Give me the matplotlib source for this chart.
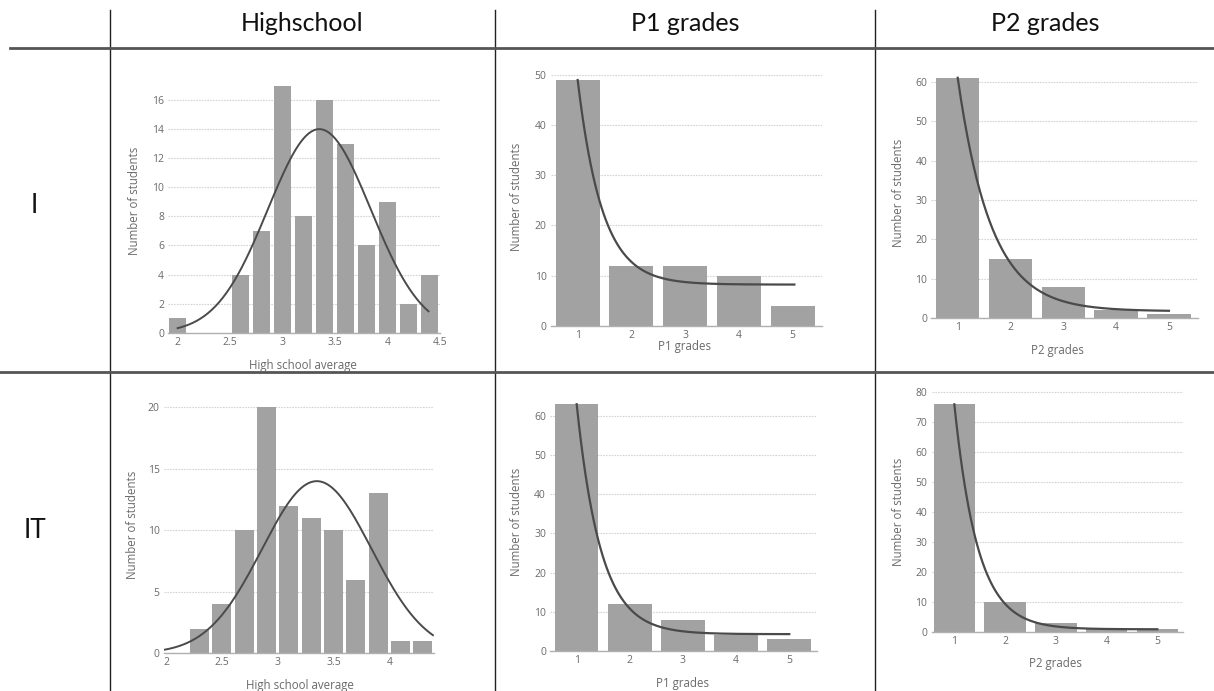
import numpy as np
import matplotlib
matplotlib.use("Agg")
import matplotlib.pyplot as plt

W, H = 1214, 691

# ---------------- data ----------------
columns = ["Highschool", "P1 grades", "P2 grades"]
rows = ["I", "IT"]

hs_i_x = [2.0, 2.2, 2.4, 2.6, 2.8, 3.0, 3.2, 3.4, 3.6, 3.8, 4.0, 4.2, 4.4]
hs_i_counts = [1, 0, 0, 4, 7, 17, 8, 16, 13, 6, 9, 2, 4]
hs_it_x = [2.3, 2.5, 2.7, 2.9, 3.1, 3.3, 3.5, 3.7, 3.9, 4.1, 4.3]
hs_it_counts = [2, 4, 10, 20, 12, 11, 10, 6, 13, 1, 1]

grades = [1, 2, 3, 4, 5]
p1_i_counts = [49, 12, 12, 10, 4]
p2_i_counts = [61, 15, 8, 2, 1]
p1_it_counts = [63, 12, 8, 4, 3]
p2_it_counts = [76, 10, 3, 1, 1]

hs_i_ticks = [2, 2.5, 3, 3.5, 4, 4.5]
hs_it_ticks = [2, 2.5, 3, 3.5, 4]
hs_i_yticks = [0, 2, 4, 6, 8, 10, 12, 14, 16]
hs_it_yticks = [0, 5, 10, 15, 20]
p1_i_yticks = [0, 10, 20, 30, 40, 50]
p2_i_yticks = [0, 10, 20, 30, 40, 50, 60]
p1_it_yticks = [0, 10, 20, 30, 40, 50, 60]
p2_it_yticks = [0, 10, 20, 30, 40, 50, 60, 70, 80]

# fitted normal curves (mean, sd, peak) for high-school averages
hs_i_fit = (3.35, 0.49, 14.0)
hs_it_fit = (3.35, 0.49, 14.0)
# fitted decay curves (start value at grade 1, asymptote, rate)
p1_i_fit = (49.0, 8.2, 2.2)
p2_i_fit = (61.0, 1.8, 1.58)
p1_it_fit = (63.0, 4.3, 2.2)
p2_it_fit = (76.0, 1.0, 2.18)

# ---------------- style ----------------
BAR = "#a2a2a2"
CURVE = "#4a4a4a"
TXT = "#6a6a6a"
GRID = "#d4d4d4"
PFONT = "Open Sans"
HFONT = "Lato"

fig = plt.figure(figsize=(W / 100, H / 100), dpi=100)
fig.patch.set_facecolor("white")

bg = fig.add_axes([0, 0, 1, 1], zorder=-5)
bg.set_xlim(0, W)
bg.set_ylim(H, 0)
bg.axis("off")

# table lines
for xv in [110, 495, 875]:
    bg.plot([xv, xv], [10, H], color="#222222", lw=1.0)
bg.plot([10, W], [48, 48], color="#555555", lw=2.0)
bg.plot([0, W], [372, 372], color="#555555", lw=2.0)

for txt, xc in zip(columns, [302, 685, 1045]):
    bg.text(xc, 23, txt, ha="center", va="center", fontsize=18, family=HFONT, color="#111111")
bg.text(34, 205, rows[0], ha="center", va="center", fontsize=19, family=HFONT, color="#111111")
bg.text(35, 530, rows[1], ha="center", va="center", fontsize=19, family=HFONT, color="#111111")


def make_ax(xlim, ylim, px_left, px_right, px_top, px_bottom):
    ax = fig.add_axes([px_left / W, 1 - px_bottom / H,
                       (px_right - px_left) / W, (px_bottom - px_top) / H])
    ax.set_xlim(*xlim)
    ax.set_ylim(*ylim)
    for s in ["top", "right", "left"]:
        ax.spines[s].set_visible(False)
    ax.spines["bottom"].set_color("#b0b0b0")
    ax.spines["bottom"].set_linewidth(1.0)
    ax.tick_params(axis="both", length=0, labelsize=7.5, colors=TXT, pad=3)
    ax.set_axisbelow(True)
    ax.yaxis.grid(True, color=GRID, lw=0.8, ls=(0, (1.5, 1.0)))
    ax.patch.set_alpha(0)
    return ax


def fmt_ticks(ax, xt, yt):
    ax.set_xticks(xt)
    ax.set_xticklabels([("%g" % v) for v in xt], family=PFONT)
    ax.set_yticks(yt)
    ax.set_yticklabels([("%g" % v) for v in yt], family=PFONT)


def normal_curve(ax, fit, x0, x1):
    mu, sd, pk = fit
    xs = np.linspace(x0, x1, 200)
    ax.plot(xs, pk * np.exp(-(xs - mu) ** 2 / (2 * sd ** 2)), color=CURVE, lw=1.4)


def decay_curve(ax, fit, x0, x1):
    start, c, b = fit
    xs = np.linspace(x0, x1, 200)
    ax.plot(xs, c + (start - c) * np.exp(-b * (xs - 1)), color=CURVE, lw=1.6)


def labels(xl, xpos, yl, ypos):
    bg.text(xpos[0], xpos[1], xl, ha="center", va="center", fontsize=8.3, family=PFONT, color=TXT)
    bg.text(ypos[0], ypos[1], yl, ha="center", va="center", fontsize=8.3, family=PFONT,
            color=TXT, rotation=90)


# ---- I / Highschool ----
ax = make_ax((1.91, 4.5), (0, 17.2), 168.2, 440, 82.6, 332.7)
ax.bar(hs_i_x, hs_i_counts, width=0.165, color=BAR)
normal_curve(ax, hs_i_fit, 2.0, 4.39)
fmt_ticks(ax, hs_i_ticks, hs_i_yticks)
labels("High school average", (303, 365), "Number of students", (135, 201))

# ---- I / P1 ----
ax = make_ax((0.5, 5.55), (0, 50.5), 550.8, 822.3, 72.5, 325.7)
ax.bar(grades, p1_i_counts, width=0.82, color=BAR)
decay_curve(ax, p1_i_fit, 1.0, 5.03)
fmt_ticks(ax, grades, p1_i_yticks)
labels("P1 grades", (685, 346), "Number of students", (517, 197))

# ---- I / P2 ----
ax = make_ax((0.5, 5.55), (0, 62), 931.3, 1198, 73.8, 318.3)
ax.bar(grades, p2_i_counts, width=0.82, color=BAR)
decay_curve(ax, p2_i_fit, 1.0, 5.0)
fmt_ticks(ax, grades, p2_i_yticks)
labels("P2 grades", (1057, 350), "Number of students", (898, 193))

# ---- IT / Highschool ----
ax = make_ax((1.98, 4.4), (0, 20.5), 163.8, 434.1, 401.2, 653.3)
ax.bar(hs_it_x, hs_it_counts, width=0.17, color=BAR)
normal_curve(ax, hs_it_fit, 1.99, 4.39)
fmt_ticks(ax, hs_it_ticks, hs_it_yticks)
labels("High school average", (300, 686), "Number of students", (133, 525))

# ---- IT / P1 ----
ax = make_ax((0.5, 5.52), (0, 64), 550.1, 816.9, 400.3, 651)
ax.bar(grades, p1_it_counts, width=0.82, color=BAR)
decay_curve(ax, p1_it_fit, 1.0, 5.0)
fmt_ticks(ax, grades, p1_it_yticks)
labels("P1 grades", (683, 684), "Number of students", (517, 522))

# ---- IT / P2 ----
ax = make_ax((0.55, 5.5), (0, 81), 931.5, 1182.7, 389.3, 632.3)
ax.bar(grades, p2_it_counts, width=0.82, color=BAR)
decay_curve(ax, p2_it_fit, 1.0, 5.0)
fmt_ticks(ax, grades, p2_it_yticks)
labels("P2 grades", (1055, 663), "Number of students", (898, 512))

fig.savefig("out.png", dpi=100, facecolor="white")
